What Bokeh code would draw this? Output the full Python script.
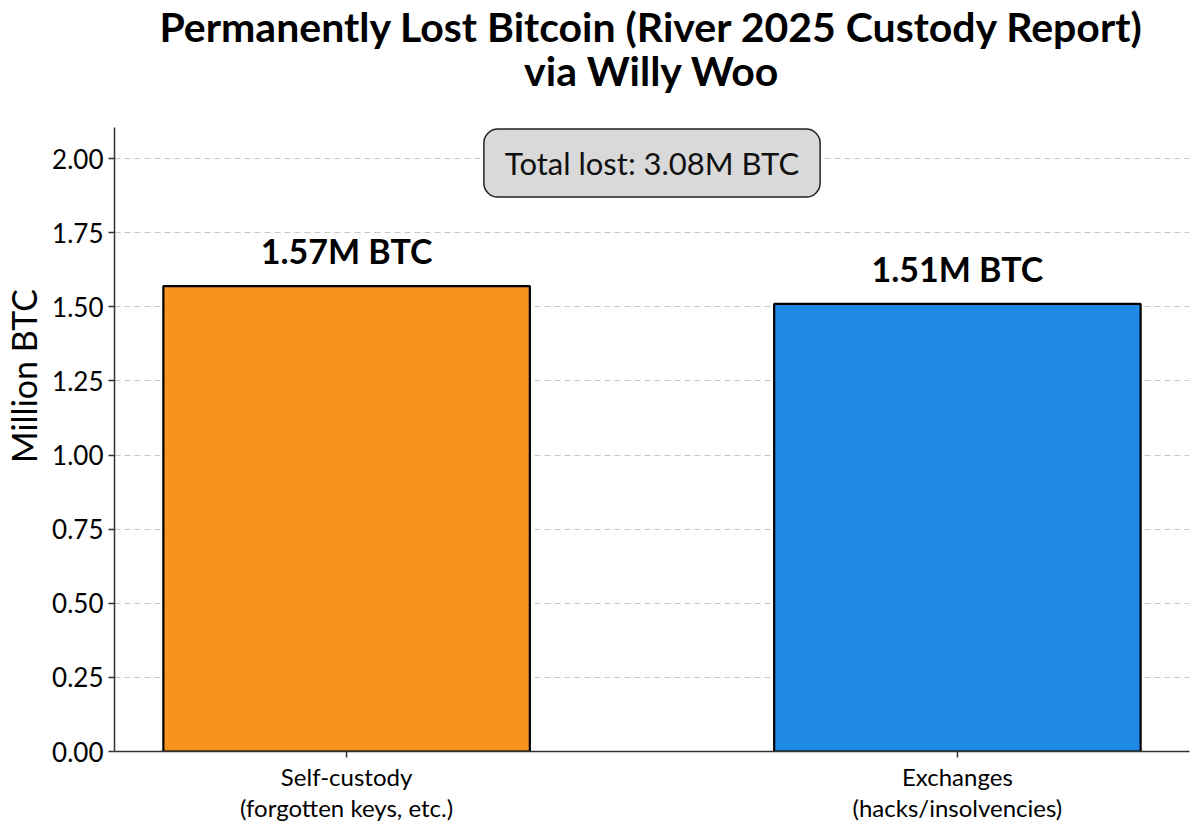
from bokeh.plotting import figure
from bokeh.models import Range1d, FixedTicker, Label, NumeralTickFormatter, ColumnDataSource
from bokeh.core.properties import value
from bokeh.embed import file_html
from bokeh.resources import INLINE

title_lines = ["Permanently Lost Bitcoin (River 2025 Custody Report)", "via Willy Woo"]
categories = ["Self-custody\n(forgotten keys, etc.)", "Exchanges\n(hacks/insolvencies)"]
values = [1.57, 1.51]
colors = ["#F7931E", "#1E88E5"]
bar_labels = ["1.57M BTC", "1.51M BTC"]
y_ticks = [0.0, 0.25, 0.5, 0.75, 1.0, 1.25, 1.5, 1.75, 2.0]
total = sum(values)

FONT = "Lato"
xs = list(range(len(categories)))

# plotting area: 1075 x 624 px for y in [0, Y_TOP]; the frame is extended upward
# (axis bounded) so the two title lines can sit above the axes region
Y_TOP = 2.105
AX_H = 624
PX_PER_UNIT = AX_H / Y_TOP
EXTRA_TOP = 127
FRAME_H = AX_H + EXTRA_TOP
Y_END = FRAME_H / PX_PER_UNIT

p = figure(width=1190, height=830, output_backend="svg", toolbar_location=None,
           x_range=Range1d(-0.38, 1.38), y_range=Range1d(0, Y_END),
           frame_width=1075, frame_height=FRAME_H,
           min_border_left=113, min_border_right=2, min_border_top=0, min_border_bottom=79)

# title lines, placed in the space above the axes region
for i, line in enumerate(title_lines):
    p.add_layout(Label(x=0.5, y=Y_TOP + (101 - 44 * i) / PX_PER_UNIT,
                       text=line, text_align="center", text_baseline="alphabetic",
                       text_font=FONT, text_font_size="41px", text_font_style="bold",
                       text_color="#000000"))

src = ColumnDataSource(dict(x=xs, top=values, color=colors, label=bar_labels))
p.vbar(x="x", top="top", width=0.6, source=src, fill_color="color", line_color="black", line_width=2.2)
p.text(x="x", y="top", text="label", source=src, text_align="center", text_baseline="bottom",
       y_offset=-15, text_font=value(FONT), text_font_size="34px", text_font_style="bold",
       text_color="#000000")

p.add_layout(Label(x=0.5, y=1.985, text=f"Total lost: {total:.2f}M BTC", text_align="center",
                   text_baseline="middle", text_font=FONT, text_font_size="31px", text_color="#111111",
                   background_fill_color="#d9d9d9", border_line_color="#222222", border_line_width=1.5,
                   border_radius=14, padding=dict(left=21, right=21, top=15, bottom=15)))

p.xaxis.ticker = FixedTicker(ticks=xs)
p.xaxis.major_label_overrides = {i: c for i, c in enumerate(categories)}
p.yaxis.ticker = FixedTicker(ticks=y_ticks)
p.yaxis.formatter = NumeralTickFormatter(format="0.00")
p.yaxis.axis_label = "Million BTC"
p.yaxis.bounds = (0, Y_TOP)

for ax in (p.xaxis, p.yaxis):
    ax.axis_line_color = "#333333"
    ax.axis_line_width = 1.5
    ax.major_tick_line_color = "#333333"
    ax.major_tick_line_width = 1.5
    ax.major_tick_out = 6
    ax.major_tick_in = 0
    ax.minor_tick_line_color = None
    ax.major_label_text_font = FONT
    ax.major_label_text_color = "#000000"
p.yaxis.major_label_text_font_size = "26px"
p.xaxis.major_label_text_font_size = "24px"
p.xaxis.major_label_text_line_height = 1.1
p.xaxis.major_label_standoff = 4
p.yaxis.axis_label_text_font = FONT
p.yaxis.axis_label_text_font_size = "34px"
p.yaxis.axis_label_text_font_style = "normal"
p.yaxis.axis_label_text_color = "#000000"

p.xgrid.grid_line_color = None
p.ygrid.grid_line_color = "#c8c8c8"
p.ygrid.grid_line_dash = "6 4"
p.ygrid.grid_line_width = 1
p.outline_line_color = None

open("out.html", "w").write(file_html(p, INLINE))
